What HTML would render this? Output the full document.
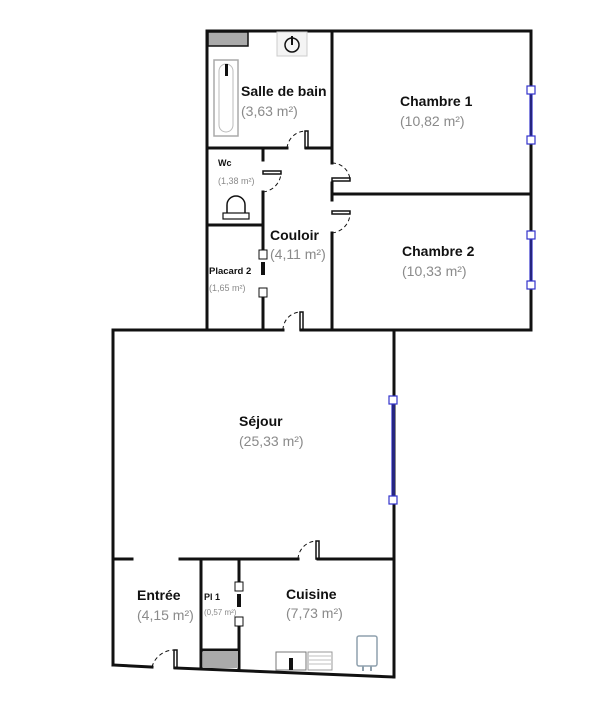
<!DOCTYPE html>
<html><head><meta charset="utf-8"><style>
body{margin:0;background:#fff;}
svg{display:block;font-family:"Liberation Sans",sans-serif;}
.b{font-weight:bold;fill:#111;}
.g{fill:#8a8a8a;}
</style></head><body>
<svg width="603" height="722" viewBox="0 0 603 722">
<g stroke="#111" stroke-width="3" fill="none" stroke-linecap="square">
<!-- top block -->
<line x1="207" y1="31" x2="531" y2="31"/>
<line x1="207" y1="31" x2="207" y2="330"/>
<line x1="332" y1="31" x2="332" y2="163"/>
<line x1="332" y1="183" x2="332" y2="200"/>
<line x1="332" y1="233" x2="332" y2="330"/>
<line x1="531" y1="31" x2="531" y2="330"/>
<line x1="207" y1="148" x2="287" y2="148"/>
<line x1="306" y1="148" x2="332" y2="148"/>
<line x1="332" y1="194" x2="531" y2="194"/>
<line x1="207" y1="225" x2="263" y2="225"/>
<line x1="263" y1="148" x2="263" y2="160"/>
<line x1="263" y1="192" x2="263" y2="250"/>
<line x1="263" y1="297" x2="263" y2="330"/>
<line x1="113" y1="330" x2="283" y2="330"/>
<line x1="301" y1="330" x2="531" y2="330"/>
<!-- séjour -->
<line x1="113" y1="330" x2="113" y2="665"/>
<line x1="394" y1="330" x2="394" y2="677"/>
<line x1="113" y1="559" x2="132" y2="559"/>
<line x1="180" y1="559" x2="298" y2="559"/>
<line x1="318" y1="559" x2="394" y2="559"/>
<line x1="201" y1="559" x2="201" y2="668"/>
<line x1="239" y1="559" x2="239" y2="582"/>
<line x1="239" y1="626" x2="239" y2="670"/>
<line x1="113" y1="665" x2="152" y2="667"/>
<line x1="175" y1="668" x2="394" y2="677"/>
<line x1="201" y1="650" x2="239" y2="650"/>
</g>
<!-- door jambs -->
<g stroke="#111" stroke-width="1.5" fill="none">
<rect x="305" y="131" width="3" height="17"/>
<rect x="263" y="171" width="18" height="3"/>
<rect x="332" y="178" width="18" height="3"/>
<rect x="332" y="211" width="18" height="3"/>
<rect x="300" y="312" width="3" height="18"/>
<rect x="316" y="541" width="3" height="18"/>
<rect x="174" y="650" width="3" height="18"/>
</g>
<g stroke="#111" stroke-width="1" fill="none" stroke-dasharray="4,3">
<path d="M287 148 A19 19 0 0 1 306 131"/>
<path d="M263 192 A20 20 0 0 0 281 172"/>
<path d="M332 163 A18 18 0 0 1 350 180"/>
<path d="M332 233 A20 20 0 0 0 350 213"/>
<path d="M283 330 A18 18 0 0 1 301 312"/>
<path d="M298 559 A19 19 0 0 1 317 541"/>
<path d="M152 667 A23 23 0 0 1 175 650"/>
</g>
<!-- gray boxes -->
<rect x="208" y="32" width="40" height="14" fill="#aaa" stroke="#111" stroke-width="1.5"/>
<rect x="203" y="651" width="35" height="17" fill="#aaa"/>
<!-- fixtures -->
<rect x="214" y="60" width="24" height="76" fill="#fff" stroke="#aaa" stroke-width="1.5"/>
<rect x="219" y="64" width="14" height="68" rx="7" fill="none" stroke="#bbb"/>
<rect x="225" y="64" width="3" height="12" fill="#111"/>
<rect x="277" y="32" width="30" height="24" fill="#f4f4f4" stroke="#ccc"/>
<circle cx="292" cy="45" r="7" fill="none" stroke="#111" stroke-width="1.5"/>
<line x1="292" y1="36" x2="292" y2="45" stroke="#111" stroke-width="2"/>
<path d="M227 213 v-8 a9 9 0 0 1 18 0 v8" fill="none" stroke="#111" stroke-width="1.5"/>
<rect x="223" y="213" width="26" height="6" fill="none" stroke="#111" stroke-width="1.2"/>
<rect x="276" y="652" width="30" height="18" fill="#fff" stroke="#777"/>
<rect x="289" y="658" width="4" height="12" fill="#111"/>
<rect x="308" y="652" width="24" height="18" fill="#fff" stroke="#999"/>
<g stroke="#aaa" stroke-width="0.7"><line x1="309" y1="656" x2="331" y2="656"/><line x1="309" y1="660" x2="331" y2="660"/><line x1="309" y1="664" x2="331" y2="664"/></g>
<rect x="357" y="636" width="20" height="30" rx="2" fill="#fff" stroke="#8ea" stroke-width="0" />
<rect x="357" y="636" width="20" height="30" rx="2" fill="#fff" stroke="#8fa0ad" stroke-width="1.5"/>
<line x1="363" y1="666" x2="363" y2="671" stroke="#8fa0ad" stroke-width="2"/>
<line x1="371" y1="666" x2="371" y2="671" stroke="#8fa0ad" stroke-width="2"/>
<!-- windows -->
<g stroke="#33c" stroke-width="1.2" fill="#fff">
<line x1="530" y1="90" x2="530" y2="140"/><line x1="532" y1="90" x2="532" y2="140"/>
<rect x="527" y="86" width="8" height="8"/><rect x="527" y="136" width="8" height="8"/>
<line x1="530" y1="235" x2="530" y2="285"/><line x1="532" y1="235" x2="532" y2="285"/>
<rect x="527" y="231" width="8" height="8"/><rect x="527" y="281" width="8" height="8"/>
<line x1="392" y1="400" x2="392" y2="500"/><line x1="394" y1="400" x2="394" y2="500"/>
<rect x="389" y="396" width="8" height="8"/><rect x="389" y="496" width="8" height="8"/>
</g>
<!-- placard doors -->
<g stroke="#111" stroke-width="1" fill="#fff">
<rect x="259" y="250" width="8" height="9"/><rect x="259" y="288" width="8" height="9"/>
<rect x="235" y="582" width="8" height="9"/><rect x="235" y="617" width="8" height="9"/>
</g>
<rect x="261" y="262" width="4" height="13" fill="#111"/>
<rect x="237" y="594" width="4" height="13" fill="#111"/>
<!-- labels -->
<text class="b" x="241" y="96" font-size="14">Salle de bain</text>
<text class="g" x="241" y="116" font-size="14">(3,63 m²)</text>
<text class="b" x="400" y="106" font-size="14">Chambre 1</text>
<text class="g" x="400" y="126" font-size="14">(10,82 m²)</text>
<text class="b" x="218" y="166" font-size="9">Wc</text>
<text class="g" x="218" y="184" font-size="9">(1,38 m²)</text>
<text class="b" x="270" y="240" font-size="14">Couloir</text>
<text class="g" x="270" y="259" font-size="14">(4,11 m²)</text>
<text class="b" x="402" y="256" font-size="14">Chambre 2</text>
<text class="g" x="402" y="276" font-size="14">(10,33 m²)</text>
<text class="b" x="209" y="274" font-size="9.5">Placard 2</text>
<text class="g" x="209" y="291" font-size="9">(1,65 m²)</text>
<text class="b" x="239" y="426" font-size="14">Séjour</text>
<text class="g" x="239" y="446" font-size="14">(25,33 m²)</text>
<text class="b" x="137" y="600" font-size="14">Entrée</text>
<text class="g" x="137" y="620" font-size="14">(4,15 m²)</text>
<text class="b" x="204" y="600" font-size="9">Pl 1</text>
<text class="g" x="204" y="615" font-size="8">(0,57 m²)</text>
<text class="b" x="286" y="599" font-size="14">Cuisine</text>
<text class="g" x="286" y="618" font-size="14">(7,73 m²)</text>
</svg>
</body></html>
